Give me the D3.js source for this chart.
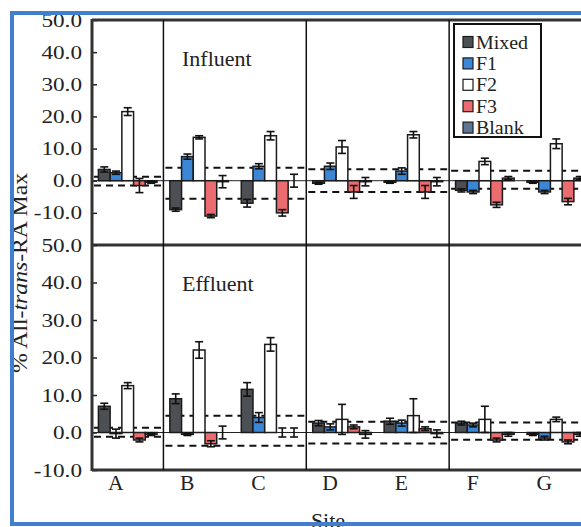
<!DOCTYPE html>
<html>
<head>
<meta charset="utf-8">
<script src="https://cdn.jsdelivr.net/npm/d3@7"></script>
<style>
  body { margin: 0; background: #fff; }
  svg { display: block; font-family: "Liberation Serif", "DejaVu Serif", serif; }
</style>
</head>
<body>
<div id="chart"></div>
<script>
const sites = ["A", "B", "C", "D", "E", "F", "G"];
const series = ["Mixed", "F1", "F2", "F3", "Blank"];
// sites sharing one set of threshold lines
const segments = [["A"], ["B", "C"], ["D", "E"], ["F", "G"]];
const yTicks = [-10, 0, 10, 20, 30, 40, 50];

// Influent
const influentMixed = [3.5, -9.0, -7.0, -0.8, -0.5, -3.0, -0.5];
const influentF1 = [2.5, 7.5, 4.5, 4.5, 3.0, -3.5, -3.5];
const influentF2 = [21.5, 13.5, 14.0, 10.5, 14.3, 6.0, 11.5];
const influentF3 = [-1.5, -11.0, -10.0, -3.5, -3.5, -7.5, -6.5];
const influentBlank = [-0.5, -0.3, 0.0, -0.3, -0.3, 0.8, 0.8];
const influentMixedErr = [0.8, 0.5, 1.2, 0.3, 0.3, 0.5, 0.3];
const influentF1Err = [0.5, 0.8, 0.8, 1.0, 1.0, 0.5, 0.5];
const influentF2Err = [1.2, 0.5, 1.3, 2.0, 1.0, 1.0, 1.5];
const influentF3Err = [2.2, 0.5, 1.0, 2.0, 2.0, 0.8, 1.0];
const influentBlankErr = [0.3, 1.9, 2.0, 1.3, 1.3, 0.5, 0.5];
const influentUpper = [1.2, 4.0, 3.6, 3.1];
const influentLower = [-1.5, -5.6, -3.5, -2.5];

// Effluent
const effluentMixed = [7.0, 9.0, 11.5, 2.5, 3.0, 2.5, -0.5];
const effluentF1 = [-0.3, -0.5, 4.0, 1.5, 2.5, 2.0, -1.5];
const effluentF2 = [12.5, 22.0, 23.5, 3.5, 4.5, 3.5, 3.5];
const effluentF3 = [-2.0, -3.0, 0.0, 1.5, 1.0, -2.0, -2.5];
const effluentBlank = [-0.5, 0.0, 0.0, -0.5, -0.3, -0.5, -0.5];
const effluentMixedErr = [0.8, 1.3, 1.8, 0.7, 0.8, 0.5, 0.3];
const effluentF1Err = [1.2, 0.3, 1.3, 0.8, 0.8, 0.5, 0.5];
const effluentF2Err = [0.8, 2.2, 1.8, 4.0, 4.5, 3.5, 0.6];
const effluentF3Err = [0.5, 0.8, 1.2, 0.5, 0.5, 0.5, 0.5];
const effluentBlankErr = [0.3, 1.7, 1.2, 1.0, 1.0, 0.5, 0.5];
const effluentUpper = [1.3, 4.5, 2.9, 2.7];
const effluentLower = [-1.1, -3.5, -2.9, -1.9];

const colors = {Mixed: "#4c4f53", F1: "#3b87d6", F2: "#ffffff", F3: "#ea6b70", Blank: "#5f7596"};

const width = 581, height = 527;
const plotLeft = 92, plotRight = 592;

const panels = [
    {
        title: "Influent", domain: [-20, 50], range: [245, 20],
        values: [influentMixed, influentF1, influentF2, influentF3, influentBlank],
        errs: [influentMixedErr, influentF1Err, influentF2Err, influentF3Err, influentBlankErr],
        upper: influentUpper, lower: influentLower
    },
    {
        title: "Effluent", domain: [-10, 50], range: [470, 245],
        values: [effluentMixed, effluentF1, effluentF2, effluentF3, effluentBlank],
        errs: [effluentMixedErr, effluentF1Err, effluentF2Err, effluentF3Err, effluentBlankErr],
        upper: effluentUpper, lower: effluentLower
    }
];

// the scanned figure is a bit wider than the font, so widen text glyphs
const stretch = (sel, k) => sel.each(function() {
    const len = this.getComputedTextLength();
    d3.select(this).attr("textLength", len * k).attr("lengthAdjust", "spacingAndGlyphs");
});

const x = d3.scaleBand().domain(sites).range([plotLeft, plotRight]);
const bw = x.bandwidth();
const inner = d3.scaleBand().domain(series).range([bw / 2 - 29.3, bw / 2 + 29.3]);

const svg = d3.select("#chart").append("svg")
    .attr("width", width)
    .attr("height", height);

svg.append("rect").attr("width", width).attr("height", height).attr("fill", "#fff");

const plot = svg.append("g");

panels.forEach(p => {
    const y = d3.scaleLinear().domain(p.domain).range(p.range);
    const g = plot.append("g");

    // zero line
    g.append("line")
        .attr("x1", plotLeft).attr("x2", plotRight)
        .attr("y1", y(0)).attr("y2", y(0))
        .attr("stroke", "#222").attr("stroke-width", 1);

    // threshold dashes per segment
    segments.forEach((seg, i) => {
        const x0 = x(seg[0]), x1 = x(seg[seg.length - 1]) + bw;
        [p.upper[i], p.lower[i]].forEach(v => {
            g.append("line")
                .attr("x1", x0 + 2).attr("x2", x1 - 2)
                .attr("y1", y(v)).attr("y2", y(v))
                .attr("stroke", "#111").attr("stroke-width", 2)
                .attr("stroke-dasharray", "7,5");
        });
    });

    const rows = [];
    sites.forEach((s, si) => series.forEach((k, ki) => {
        rows.push({site: s, key: k, value: p.values[ki][si], err: p.errs[ki][si]});
    }));

    g.append("g").selectAll("rect").data(rows).join("rect")
        .attr("x", d => x(d.site) + inner(d.key))
        .attr("width", inner.bandwidth())
        .attr("y", d => y(Math.max(0, d.value)))
        .attr("height", d => Math.abs(y(d.value) - y(0)))
        .attr("fill", d => colors[d.key])
        .attr("stroke", "#1b1b1b")
        .attr("stroke-width", 1.5);

    const eb = g.append("g").attr("stroke", "#111").attr("stroke-width", 1.6)
        .selectAll("g").data(rows).join("g")
        .attr("transform", d => `translate(${x(d.site) + inner(d.key) + inner.bandwidth() / 2},0)`);
    eb.append("line")
        .attr("y1", d => y(d.value - d.err)).attr("y2", d => y(d.value + d.err));
    eb.append("line").attr("x1", -4).attr("x2", 4)
        .attr("y1", d => y(d.value + d.err)).attr("y2", d => y(d.value + d.err));
    eb.append("line").attr("x1", -4).attr("x2", 4)
        .attr("y1", d => y(d.value - d.err)).attr("y2", d => y(d.value - d.err));

    // y axis
    const axis = g.append("g")
        .attr("transform", `translate(${plotLeft},0)`)
        .call(d3.axisLeft(y).tickValues(yTicks).tickSizeInner(-5).tickSizeOuter(0)
            .tickPadding(10).tickFormat(d => d.toFixed(1)));
    axis.select(".domain").remove();
    axis.selectAll("line").attr("stroke", "#222").attr("stroke-width", 1.5);
    axis.selectAll("text").attr("font-size", 19).attr("font-family", "Liberation Serif").attr("fill", "#222")
        .call(stretch, 1.22);

    g.append("text")
        .attr("x", 182).attr("y", p.range[1] + 46)
        .attr("font-size", 22).attr("fill", "#222")
        .text(p.title);

    // panel bottom edge
    g.append("line")
        .attr("x1", plotLeft).attr("x2", plotRight)
        .attr("y1", p.range[0]).attr("y2", p.range[0])
        .attr("stroke", "#333").attr("stroke-width", 3);
});

// frame
plot.append("line").attr("x1", plotLeft).attr("x2", plotRight).attr("y1", 20).attr("y2", 20)
    .attr("stroke", "#333").attr("stroke-width", 3);
plot.append("line").attr("x1", plotLeft).attr("x2", plotLeft).attr("y1", 19).attr("y2", 471)
    .attr("stroke", "#333").attr("stroke-width", 3);
segments.slice(1).forEach(seg => {
    plot.append("line").attr("x1", x(seg[0])).attr("x2", x(seg[0])).attr("y1", 20).attr("y2", 470)
        .attr("stroke", "#111").attr("stroke-width", 1.5);
});

// site labels
svg.append("g").selectAll("text").data(sites).join("text")
    .attr("x", d => x(d) + bw / 2 - 12)
    .attr("y", 490)
    .attr("text-anchor", "middle")
    .attr("font-size", 20).attr("fill", "#222")
    .text(d => d)
    .call(stretch, 1.08);

svg.append("text")
    .attr("x", 328).attr("y", 528)
    .attr("text-anchor", "middle")
    .attr("font-size", 22).attr("fill", "#222")
    .text("Site");

const yt = svg.append("text")
    .attr("transform", "translate(27,273) rotate(-90)")
    .attr("text-anchor", "middle")
    .attr("font-size", 21).attr("fill", "#222");
yt.append("tspan").text("% All-");
yt.append("tspan").attr("font-style", "italic").text("trans");
yt.append("tspan").text("-RA Max");
yt.attr("textLength", 200).attr("lengthAdjust", "spacingAndGlyphs");

// legend
const legend = svg.append("g").attr("transform", "translate(454,24)");
legend.append("rect").attr("width", 87).attr("height", 113)
    .attr("fill", "#fff").attr("stroke", "#111").attr("stroke-width", 2);
const li = legend.selectAll("g").data(series).join("g")
    .attr("transform", (d, i) => `translate(9,${18 + i * 21.4})`);
li.append("rect").attr("x", 0).attr("y", -5.5).attr("width", 10).attr("height", 11)
    .attr("fill", d => colors[d]).attr("stroke", "#1b1b1b").attr("stroke-width", 1.2);
li.append("text").attr("x", 13).attr("dy", "0.35em")
    .attr("font-size", 19).attr("fill", "#222")
    .text(d => d)
    .call(stretch, 1.05);

// scan border
svg.append("rect")
    .attr("x", 12).attr("y", 13).attr("width", 620).attr("height", 511)
    .attr("fill", "none").attr("stroke", "#3f7fcd").attr("stroke-width", 4);
</script>
</body>
</html>
